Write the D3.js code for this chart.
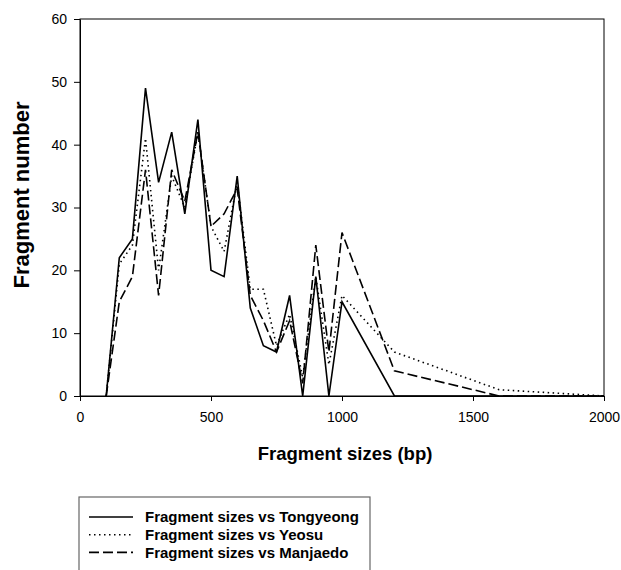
<!DOCTYPE html>
<html>
<head>
<meta charset="utf-8">
<script src="https://cdn.jsdelivr.net/npm/d3@7"></script>
<style>
  body { margin: 0; background: #fff; }
  svg { font-family: "Liberation Sans", Arial, sans-serif; }
</style>
</head>
<body>
<svg class="chart" width="621" height="570"></svg>
<script>
const sizes = [100, 150, 200, 250, 300, 350, 400, 450, 500, 550, 600, 650, 700, 750, 800, 850, 900, 950, 1000, 1200, 1600, 2000];
const tongyeong = [0, 22, 25, 49, 34, 42, 29, 44, 20, 19, 35, 14, 8, 7, 16, 0, 19, 0, 15, 0, 0, 0];
const yeosu = [0, 21, 24, 41, 20, 35, 30, 42, 27, 23, 34, 17, 17, 8, 13, 3, 19, 5, 16, 7, 1, 0];
const manjaedo = [0, 15, 19, 36, 16, 36, 31, 42, 27, 29, 33, 16, 12, 7, 12, 2, 24, 7, 26, 4, 0, 0];
const xTicks = [0, 500, 1000, 1500, 2000];
const yTicks = [0, 10, 20, 30, 40, 50, 60];

const series = [
    { name: 'Fragment sizes vs Tongyeong', values: tongyeong, dash: null },
    { name: 'Fragment sizes vs Yeosu', values: yeosu, dash: '1.5,3.5' },
    { name: 'Fragment sizes vs Manjaedo', values: manjaedo, dash: '10,4' }
];

const svg = d3.select('.chart');
const margin = { top: 19, right: 17, bottom: 174, left: 80 };
const width = +svg.attr('width');
const height = +svg.attr('height');
const innerWidth = width - margin.left - margin.right;
const innerHeight = height - margin.top - margin.bottom;

const x = d3.scaleLinear().domain([0, 2000]).range([0, innerWidth]);
const y = d3.scaleLinear().domain([0, 60]).range([innerHeight, 0]);

const g = svg.append('g')
    .attr('transform', `translate(${margin.left},${margin.top})`);

// frame
g.append('rect')
    .attr('width', innerWidth)
    .attr('height', innerHeight)
    .attr('fill', 'none')
    .attr('stroke', '#000')
    .attr('stroke-width', 1);

const xAxis = g.append('g')
    .attr('transform', `translate(0,${innerHeight})`)
    .call(d3.axisBottom(x).tickValues(xTicks).tickFormat(d3.format('d'))
        .tickSize(5).tickSizeOuter(0).tickPadding(11));

const yAxis = g.append('g')
    .call(d3.axisLeft(y).tickValues(yTicks).tickSize(6).tickSizeOuter(0).tickPadding(7));

[xAxis, yAxis].forEach(a => {
    a.selectAll('text').style('font-size', '14px').attr('fill', '#000');
    a.select('.domain').attr('stroke', '#000');
});

const line = d3.line()
    .x((d, i) => x(sizes[i]))
    .y(d => y(d));

g.append('g')
    .selectAll('path')
    .data(series)
    .join('path')
    .attr('d', d => line(d.values))
    .attr('fill', 'none')
    .attr('stroke', '#000')
    .attr('stroke-width', 1.6)
    .attr('stroke-dasharray', d => d.dash);

// axis titles
svg.append('text')
    .attr('x', 345)
    .attr('y', 460)
    .attr('text-anchor', 'middle')
    .style('font-size', '18.5px')
    .style('font-weight', 'bold')
    .text('Fragment sizes (bp)');

svg.append('text')
    .attr('transform', 'translate(29,195) rotate(-90)')
    .attr('text-anchor', 'middle')
    .style('font-size', '22px')
    .style('font-weight', 'bold')
    .text('Fragment number');

// legend
const legend = svg.append('g').attr('transform', 'translate(79,497)');
legend.append('rect')
    .attr('width', 291)
    .attr('height', 80)
    .attr('fill', 'none')
    .attr('stroke', '#666')
    .attr('stroke-width', 1.2);

const item = legend.selectAll('.item')
    .data(series)
    .join('g')
    .attr('class', 'item')
    .attr('transform', (d, i) => `translate(0,${20 + i * 17.7})`);

item.append('line')
    .attr('x1', 10).attr('x2', 54)
    .attr('stroke', '#000')
    .attr('stroke-width', 1.6)
    .attr('stroke-dasharray', d => d.dash);

item.append('text')
    .attr('x', 66)
    .attr('dy', '0.36em')
    .style('font-size', '15px')
    .style('font-weight', 'bold')
    .text(d => d.name);
</script>
</body>
</html>
